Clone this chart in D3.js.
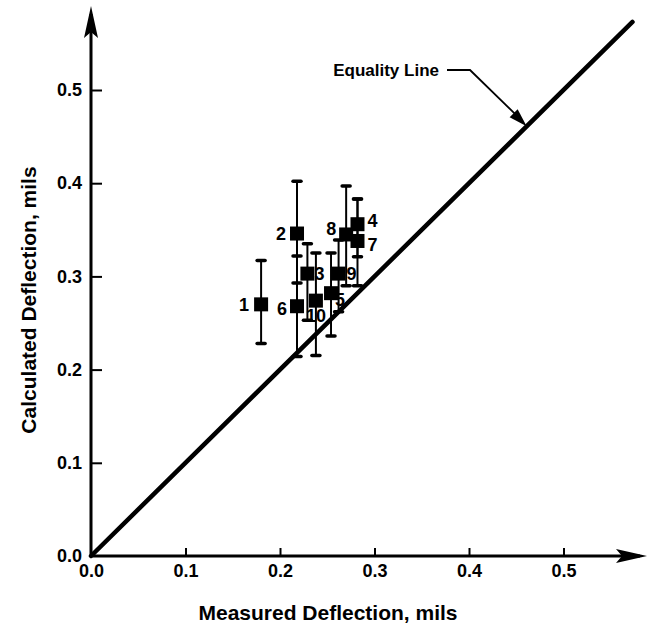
<!DOCTYPE html>
<html>
<head>
<meta charset="utf-8">
<script src="https://cdn.jsdelivr.net/npm/d3@7"></script>
<style>
  body { margin: 0; background: #fff; }
  svg text { font-family: "Liberation Sans", Arial, sans-serif; font-weight: bold; fill: #000; }
</style>
</head>
<body>
<svg width="650" height="635"></svg>
<script>
// test points: id, measured, calculated, low / high of error bar
const ids      = ['1', '2', '3', '4', '5', '6', '7', '8', '9', '10'];
const measured = [0.180, 0.218, 0.229, 0.282, 0.254, 0.218, 0.282, 0.270, 0.262, 0.238];
const calc     = [0.270, 0.346, 0.303, 0.356, 0.282, 0.268, 0.338, 0.345, 0.303, 0.274];
const lowBar   = [0.228, 0.293, 0.253, 0.321, 0.236, 0.214, 0.290, 0.290, 0.262, 0.215];
const highBar  = [0.317, 0.402, 0.335, 0.383, 0.325, 0.322, 0.383, 0.397, 0.339, 0.325];
const tickVals = [0.0, 0.1, 0.2, 0.3, 0.4, 0.5];
const lineEnd = 0.573;

const svg = d3.select('svg');
const x = d3.scaleLinear().domain([0, 0.5]).range([91, 563.5]);
const y = d3.scaleLinear().domain([0, 0.5]).range([556, 90]);

const data = ids.map((id, i) => ({id: id, mx: measured[i], cy: calc[i], lo: lowBar[i], hi: highBar[i]}));

// axes (ticks point into the plot)
const xAxis = svg.append('g')
    .attr('transform', 'translate(0,' + y(0) + ')')
    .call(d3.axisBottom(x).tickValues(tickVals).tickSize(-8).tickPadding(17).tickFormat(d3.format('.1f')));
xAxis.select('.domain').remove();
xAxis.selectAll('line').attr('stroke-width', 2);
xAxis.selectAll('text').attr('font-size', 18).attr('dy', '0.2em');

const yAxis = svg.append('g')
    .attr('transform', 'translate(' + x(0) + ',0)')
    .call(d3.axisLeft(y).tickValues(tickVals).tickSize(-11).tickPadding(9).tickFormat(d3.format('.1f')));
yAxis.select('.domain').remove();
yAxis.selectAll('line').attr('stroke-width', 2);
yAxis.selectAll('text').attr('font-size', 18);
yAxis.selectAll('.tick').filter(d => d === 0).select('line').remove();
xAxis.selectAll('.tick').filter(d => d === 0).select('line').remove();

// axis lines with arrow heads
svg.append('line').attr('x1', x(0)).attr('y1', y(0)).attr('x2', 640).attr('y2', y(0))
    .attr('stroke', '#000').attr('stroke-width', 3);
svg.append('path').attr('d', 'M647,' + y(0) + 'L616,' + (y(0) - 7) + 'L622,' + y(0) + 'L616,' + (y(0) + 7) + 'Z');
svg.append('line').attr('x1', x(0)).attr('y1', y(0)).attr('x2', x(0)).attr('y2', 14)
    .attr('stroke', '#000').attr('stroke-width', 3);
svg.append('path').attr('d', 'M' + x(0) + ',6L' + (x(0) - 7) + ',38L' + x(0) + ',32L' + (x(0) + 7) + ',38Z');

// equality line
svg.append('line')
    .attr('x1', x(0)).attr('y1', y(0)).attr('x2', x(lineEnd)).attr('y2', y(lineEnd))
    .attr('stroke', '#000').attr('stroke-width', 4.5).attr('stroke-linecap', 'round');

// label + leader arrow
svg.append('text').attr('x', 439).attr('y', 76).attr('text-anchor', 'end')
    .attr('font-size', 17).text('Equality Line');
const tip = [x(0.461), y(0.461)];
svg.append('path')
    .attr('d', 'M447,70L470,70L' + (tip[0] - 4) + ',' + (tip[1] - 5))
    .attr('fill', 'none').attr('stroke', '#000').attr('stroke-width', 1.8);
svg.append('path')
    .attr('d', 'M' + tip[0] + ',' + tip[1] + 'L' + (tip[0] - 17) + ',' + (tip[1] - 9) + 'L' + (tip[0] - 9) + ',' + (tip[1] - 17) + 'Z');

// error bars
const bars = svg.append('g').selectAll('g').data(data).enter().append('g');
bars.append('line')
    .attr('x1', d => x(d.mx)).attr('x2', d => x(d.mx))
    .attr('y1', d => y(d.lo)).attr('y2', d => y(d.hi))
    .attr('stroke', '#000').attr('stroke-width', 2);
bars.selectAll('.cap').data(d => [[d.mx, d.lo], [d.mx, d.hi]]).enter().append('line')
    .attr('class', 'cap')
    .attr('x1', d => x(d[0]) - 4).attr('x2', d => x(d[0]) + 4)
    .attr('y1', d => y(d[1])).attr('y2', d => y(d[1]))
    .attr('stroke', '#000').attr('stroke-width', 3.5).attr('stroke-linecap', 'round');

// squares
svg.append('g').selectAll('rect').data(data).enter().append('rect')
    .attr('x', d => x(d.mx) - 7).attr('y', d => y(d.cy) - 7)
    .attr('width', 14).attr('height', 14).attr('fill', '#000');

// point labels
const labelPos = {
    '1': [-12, 0, 'end'], '2': [-11, 0, 'end'], '3': [7, 0, 'start'], '4': [10, -4, 'start'],
    '5': [4, 6, 'start'], '6': [-10, 2, 'end'], '7': [10, 4, 'start'], '8': [-10, -6, 'end'],
    '9': [8, 0, 'start'], '10': [-10, 15, 'start']
};
svg.append('g').selectAll('text').data(data).enter().append('text')
    .attr('x', d => x(d.mx) + labelPos[d.id][0])
    .attr('y', d => y(d.cy) + labelPos[d.id][1])
    .attr('dy', '0.36em')
    .attr('text-anchor', d => labelPos[d.id][2])
    .attr('font-size', 18)
    .text(d => d.id);

// axis titles
svg.append('text').attr('x', 328).attr('y', 620).attr('text-anchor', 'middle')
    .attr('font-size', 21).text('Measured Deflection, mils');
svg.append('text').attr('transform', 'translate(36,300)rotate(-90)').attr('text-anchor', 'middle')
    .attr('font-size', 21).text('Calculated Deflection, mils');
</script>
</body>
</html>
